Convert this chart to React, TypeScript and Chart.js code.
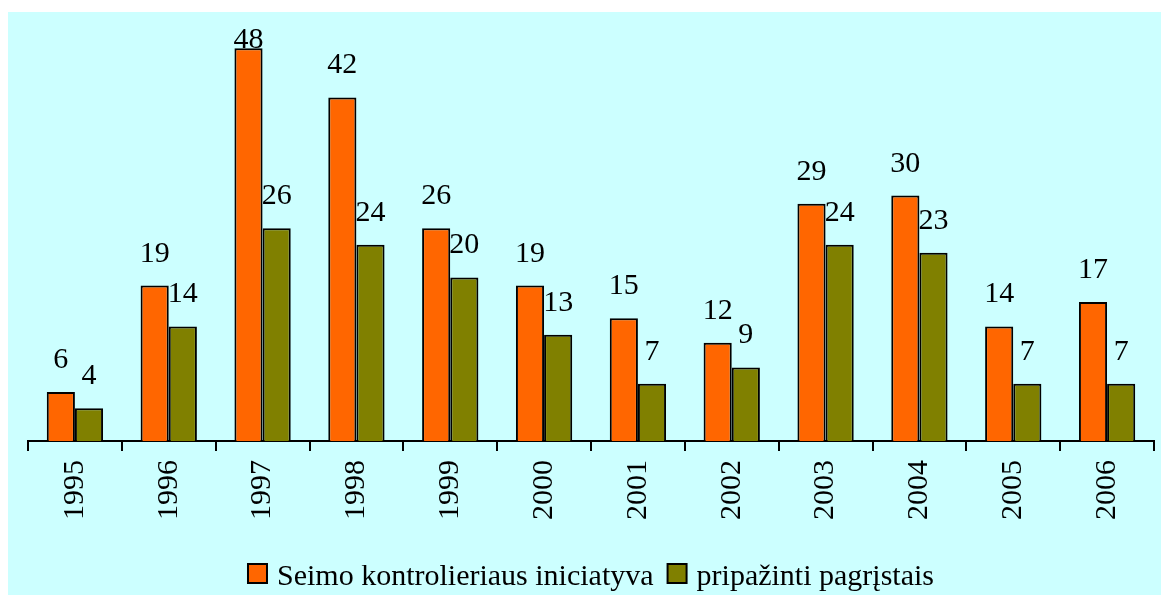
import React, { useEffect, useRef } from "react";
import { Chart, registerables } from "chart.js";

Chart.register(...registerables);

const years = ["1995", "1996", "1997", "1998", "1999", "2000", "2001", "2002", "2003", "2004", "2005", "2006"];
const initiative = [6, 19, 48, 42, 26, 19, 15, 12, 29, 30, 14, 17];
const justified = [4, 14, 26, 24, 20, 13, 7, 9, 24, 23, 7, 7];
const seriesNames = ["Seimo kontrolieriaus iniciatyva", "pripažinti pagrįstais"];
const seriesColors = ["#FF6600", "#808000"];

const FONT = "'Liberation Serif'";

const valueLabels = {
  id: "valueLabels",
  afterDatasetsDraw(chart: any) {
    const ctx = chart.ctx;
    const top = chart.chartArea.top;
    ctx.save();
    ctx.font = `30px ${FONT}`;
    ctx.fillStyle = "#000";
    ctx.textAlign = "center";
    ctx.textBaseline = "alphabetic";
    chart.data.datasets.forEach((ds: any, di: number) => {
      const meta = chart.getDatasetMeta(di);
      meta.data.forEach((bar: any, i: number) => {
        const y = Math.max(bar.y - 24, top + 16);
        ctx.fillText(String(ds.data[i]), bar.x, y);
      });
    });
    ctx.restore();
  },
};

const customLegend = {
  id: "customLegend",
  afterDraw(chart: any) {
    const ctx = chart.ctx;
    ctx.save();
    ctx.font = `30px ${FONT}`;
    const box = 19;
    const gapText = 10;
    const gapItem = 14;
    const items = chart.data.datasets.map((ds: any) => ({
      text: ds.label,
      color: ds.backgroundColor,
      w: ctx.measureText(ds.label).width,
    }));
    let total = 0;
    items.forEach((it: any, i: number) => {
      total += box + gapText + it.w + (i > 0 ? gapItem : 0);
    });
    const cx = (chart.chartArea.left + chart.chartArea.right) / 2;
    let x = cx - total / 2;
    const baseline = chart.height - 10;
    const boxTop = baseline - 21;
    items.forEach((it: any) => {
      ctx.fillStyle = it.color;
      ctx.fillRect(x, boxTop, box, box);
      ctx.strokeStyle = "#000";
      ctx.lineWidth = 2;
      ctx.strokeRect(x, boxTop, box, box);
      x += box + gapText;
      ctx.fillStyle = "#000";
      ctx.textBaseline = "alphabetic";
      ctx.textAlign = "left";
      ctx.fillText(it.text, x, baseline);
      x += it.w + gapItem;
    });
    ctx.restore();
  },
};

export default function App() {
  const ref = useRef<HTMLCanvasElement | null>(null);
  useEffect(() => {
    if (!ref.current) return;
    const chart = new Chart(ref.current, {
      type: "bar",
      data: {
        labels: years,
        datasets: [
          {
            label: seriesNames[0],
            data: initiative,
            backgroundColor: seriesColors[0],
            borderColor: "#000",
            borderWidth: 2,
            barPercentage: 1,
            categoryPercentage: 0.6,
          },
          {
            label: seriesNames[1],
            data: justified,
            backgroundColor: seriesColors[1],
            borderColor: "#000",
            borderWidth: 2,
            barPercentage: 1,
            categoryPercentage: 0.6,
          },
        ],
      },
      options: {
        animation: false,
        responsive: true,
        maintainAspectRatio: false,
        layout: { padding: { left: 20, right: 7, top: 20, bottom: 66 } },
        plugins: {
          legend: { display: false },
          tooltip: { enabled: false },
        },
        scales: {
          y: { display: false, min: 0, max: 50 },
          x: {
            border: { display: true, color: "#000", width: 2 },
            grid: {
              display: true,
              offset: true,
              drawOnChartArea: false,
              drawTicks: true,
              tickLength: 10,
              color: "#000",
              lineWidth: 2,
            },
            ticks: {
              color: "#000",
              font: { family: FONT, size: 30 },
              minRotation: 90,
              maxRotation: 90,
              padding: 9,
              autoSkip: false,
            },
          },
        },
      },
      plugins: [valueLabels, customLegend],
    });
    return () => chart.destroy();
  }, []);
  return (
    <div
      style={{
        position: "fixed",
        left: 8,
        top: 12,
        width: 1153,
        height: 583,
        background: "#CCFFFF",
      }}
    >
      <canvas ref={ref} />
    </div>
  );
}
